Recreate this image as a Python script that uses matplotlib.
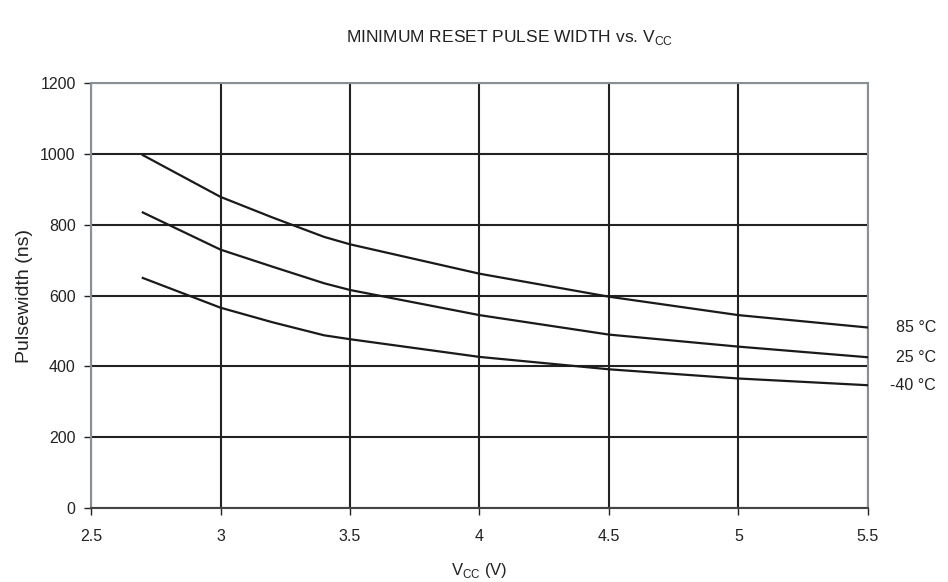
import matplotlib.pyplot as plt

plt.rcParams['font.family'] = ['Liberation Sans', 'DejaVu Sans']

# data
vcc = [2.7, 3.0, 3.2, 3.4, 3.5, 4.0, 4.5, 5.0, 5.5]
pw_85 = [997, 879, 821, 766, 745, 662, 597, 545, 510]
pw_25 = [835, 730, 682, 635, 616, 545, 490, 456, 426]
pw_m40 = [650, 566, 525, 488, 477, 427, 392, 366, 347]
curve_labels = ['85 °C', '25 °C', '-40 °C']

fig = plt.figure(figsize=(9.48, 5.82), dpi=100)
ax = fig.add_axes([0.096, 0.127, 0.8196, 0.730])

for y in (pw_85, pw_25, pw_m40):
    ax.plot(vcc, y, color='#1a1a1a', linewidth=1.6, zorder=3,
            solid_joinstyle='round')

ax.set_xlim(2.5, 5.5)
ax.set_ylim(0, 1200)
ax.set_xticks([2.5, 3, 3.5, 4, 4.5, 5, 5.5])
ax.set_xticklabels(['2.5', '3', '3.5', '4', '4.5', '5', '5.5'])
ax.set_yticks(range(0, 1201, 200))
ax.grid(True, color='#222222', linewidth=1.5)
ax.set_axisbelow(True)

for side in ('top', 'right', 'left'):
    ax.spines[side].set_color('#8a8f96')
    ax.spines[side].set_linewidth(1.5)
ax.spines['bottom'].set_color('#444444')
ax.spines['bottom'].set_linewidth(1.5)

ax.tick_params(axis='both', labelsize=11.5, colors='#222222', length=5, width=1)
ax.tick_params(axis='x', pad=10)
ax.tick_params(axis='y', pad=6)

ax.set_ylabel('Pulsewidth (ns)', fontsize=14, labelpad=5, color='#222222')
ax.set_xlabel('V$_{\\mathregular{CC}}$ (V)', fontsize=12, labelpad=12, color='#222222')
fig.text(0.538, 0.935, 'MINIMUM RESET PULSE WIDTH vs. V$_{\\mathregular{CC}}$',
         ha='center', va='center', fontsize=12.5, color='#222222')

# curve labels at right end
for y, lab in zip((pw_85, pw_25, pw_m40), curve_labels):
    ax.annotate(lab, xy=(1.0, y[-1]), xycoords=('axes fraction', 'data'),
                xytext=(49, 0), textcoords='offset points', ha='right',
                va='center', fontsize=11.5, color='#222222')

fig.savefig('out.png', dpi=100)
